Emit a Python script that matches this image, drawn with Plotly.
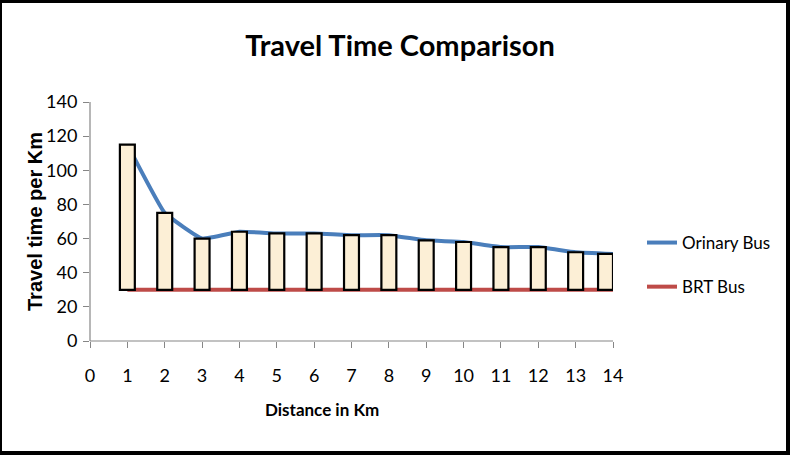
import plotly.graph_objects as go

distance = [1, 2, 3, 4, 5, 6, 7, 8, 9, 10, 11, 12, 13, 14]
ordinary_bus = [115, 75, 60, 64, 63, 63, 62, 62, 59, 58, 55, 55, 52, 51]
brt_bus = [30, 30, 30, 30, 30, 30, 30, 30, 30, 30, 30, 30, 30, 30]
x_ticks = list(range(0, 15))
y_ticks = list(range(0, 141, 20))

W, H = 796, 458
ML, MR, MT, MB = 90, 183, 102, 117
pw = W - ML - MR
ph = H - MT - MB

def px_x(p):
    return (p - ML) / pw

def px_y(p):
    return (H - MB - p) / ph

font_main = "Lato, Open Sans, sans-serif"
axis_color = "#868686"

# bar offsets (last bar squeezed inside the plot edge, as in the original)
bar_width = 0.4
offsets = [-bar_width / 2] * (len(distance) - 1) + [-bar_width]

fig = go.Figure()

fig.add_trace(go.Scatter(
    x=distance, y=ordinary_bus, mode="lines", name="Orinary Bus",
    line=dict(color="#4A7EBB", width=4, shape="spline", smoothing=0.3),
    legendgroup="a", zorder=0,
))
fig.add_trace(go.Scatter(
    x=distance, y=brt_bus, mode="lines", name="BRT Bus",
    line=dict(color="#BE4B48", width=4),
    legendgroup="b", zorder=0,
))

fig.add_trace(go.Bar(
    x=distance,
    y=[o - b for o, b in zip(ordinary_bus, brt_bus)],
    base=brt_bus,
    width=bar_width,
    offset=offsets,
    marker=dict(color="#FCEFD6", line=dict(color="black", width=2.2)),
    showlegend=False,
    hoverinfo="skip",
    zorder=1,
))

axis_common = dict(showgrid=False, zeroline=False, showline=False,
                   ticks="outside", ticklen=6, tickcolor=axis_color)

fig.update_layout(
    width=W, height=H,
    margin=dict(l=ML, r=MR, t=MT, b=MB),
    paper_bgcolor="white", plot_bgcolor="white",
    title=dict(text="<b>Travel Time Comparison</b>", x=400 / W, xanchor="center",
               y=1 - 46 / H, yanchor="middle",
               font=dict(family=font_main, size=29, color="black")),
    xaxis=dict(range=[0, 14], tickvals=x_ticks, ticktext=[str(v) for v in x_ticks],
               ticklabelstandoff=12,
               tickfont=dict(family=font_main, size=18, color="black"), **axis_common),
    yaxis=dict(range=[0, 140], tickvals=y_ticks,
               ticklabelstandoff=2,
               tickfont=dict(family=font_main, size=18, color="black"), **axis_common),
    legend=dict(x=px_x(642), y=px_y(225), xanchor="left", yanchor="top",
                font=dict(family=font_main, size=17, color="black"),
                tracegroupgap=19, bgcolor="rgba(0,0,0,0)"),
    annotations=[
        dict(text="<b>Distance in Km</b>", xref="paper", yref="paper",
             x=px_x(322), y=px_y(409), xanchor="center", yanchor="middle", showarrow=False,
             font=dict(family=font_main, size=17, color="black")),
        dict(text="<b>Travel time per Km</b>", xref="paper", yref="paper",
             x=px_x(35), y=px_y(222), xanchor="center", yanchor="middle", showarrow=False,
             textangle=-90,
             font=dict(family="Liberation Sans, Arial, sans-serif", size=20, color="black")),
    ],
    shapes=[
        dict(type="line", xref="paper", yref="paper", x0=0, x1=1, y0=0, y1=0,
             line=dict(color=axis_color, width=1.2), layer="above"),
        dict(type="line", xref="paper", yref="paper", x0=0, x1=0, y0=0, y1=1,
             line=dict(color=axis_color, width=1.2), layer="above"),
        dict(type="rect", xref="paper", yref="paper",
             x0=px_x(0), x1=px_x(788), y0=px_y(453), y1=px_y(1),
             line=dict(color="black", width=4), fillcolor="rgba(0,0,0,0)", layer="above"),
    ],
)

fig.write_html("out.html")
